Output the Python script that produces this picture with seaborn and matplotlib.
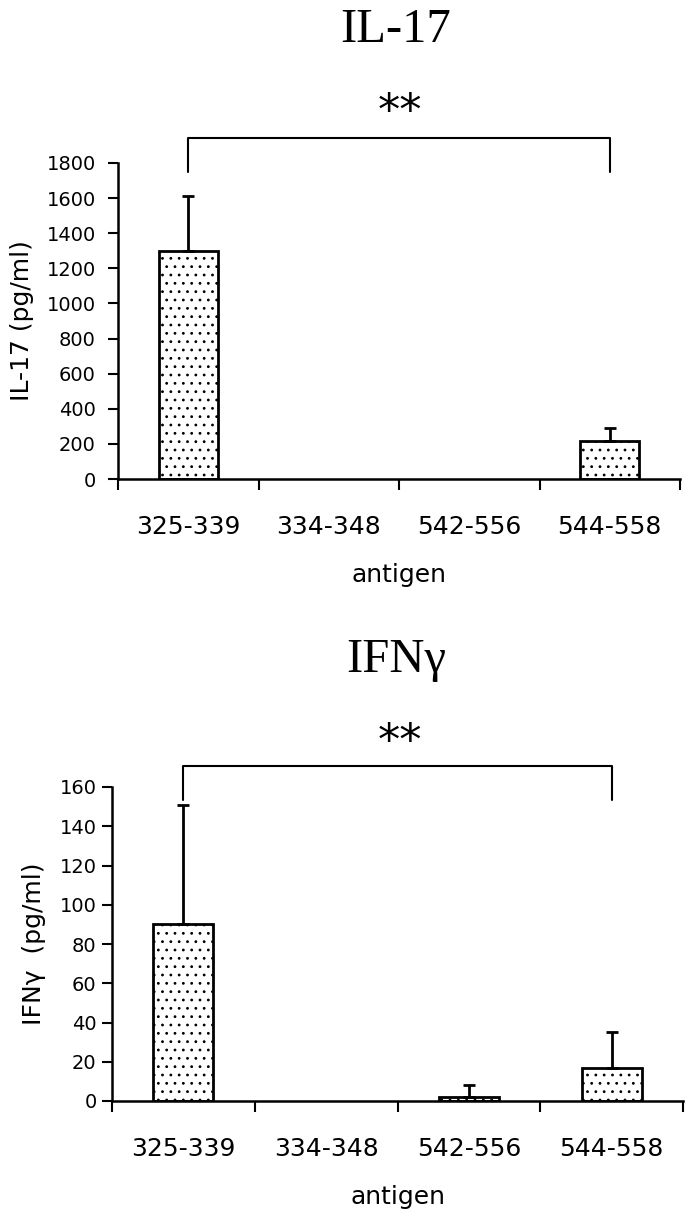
import matplotlib
matplotlib.use("Agg")
import matplotlib.pyplot as plt
import seaborn as sns
import pandas as pd
import numpy as np

# ---- data ----
antigens = ["325-339", "334-348", "542-556", "544-558"]
il17_mean = [1300, 0, 0, 215]
il17_err = [310, 0, 0, 75]
ifng_mean = [90, 0, 2, 17]
ifng_err = [61, 0, 6, 18]
il17_ticks = [0, 200, 400, 600, 800, 1000, 1200, 1400, 1600, 1800]
ifng_ticks = [0, 20, 40, 60, 80, 100, 120, 140, 160]

sns.set_style("white")
plt.rcParams['font.family'] = ['DejaVu Sans']
plt.rcParams['text.color'] = 'black'
plt.rcParams['axes.labelcolor'] = 'black'
plt.rcParams['xtick.color'] = 'black'
plt.rcParams['ytick.color'] = 'black'
plt.rcParams['hatch.linewidth'] = 0.8
plt.rcParams['hatch.color'] = 'black'

fig = plt.figure(figsize=(6.85, 12.26), dpi=100)
W, H = 685, 1226

def px_axes(x0, x1, ytop, ybot):
    return fig.add_axes([x0 / W, 1 - ybot / H, (x1 - x0) / W, (ybot - ytop) / H])

panels = [
    dict(box=(118, 680, 163, 479), mean=il17_mean, err=il17_err, ticks=il17_ticks,
         ymax=1800, ylabel="IL-17 (pg/ml)", title="IL-17", title_y=30, star_y=112,
         br_top=1942, br_left=1749, br_right=1749, ylab_x=22, ypad=9),
    dict(box=(112, 683, 787, 1101), mean=ifng_mean, err=ifng_err, ticks=ifng_ticks,
         ymax=160, ylabel="IFNγ  (pg/ml)", title="IFNγ", title_y=660, star_y=742,
         br_top=170.7, br_left=153.5, br_right=153.5, ylab_x=34, ypad=4),
]

for p in panels:
    x0, x1, yt, yb = p['box']
    ax = px_axes(x0, x1, yt, yb)
    df = pd.DataFrame({"antigen": antigens, "value": p['mean']})
    sns.barplot(data=df, x="antigen", y="value", ax=ax, color="white",
                edgecolor="black", linewidth=2, width=0.42, errorbar=None)
    for bar in ax.patches:
        bar.set_hatch('..')
        bar.set_facecolor('white')
        if bar.get_height() == 0:
            bar.set_visible(False)
    xs = np.arange(len(antigens))
    errs = np.array(p['err'], dtype=float)
    mask = errs > 0
    ax.errorbar(xs[mask], np.array(p['mean'])[mask],
                yerr=[np.zeros(mask.sum()), errs[mask]],
                fmt='none', ecolor='black', elinewidth=2, capsize=4, capthick=2)
    ax.set_xlim(-0.5, 3.5)
    ax.set_ylim(0, p['ymax'])
    ax.set_yticks(p['ticks'])
    ax.set_yticklabels([str(t) for t in p['ticks']], fontsize=14)
    ax.tick_params(axis='y', direction='out', length=7, width=1.5, pad=p['ypad'], left=True)
    ax.set_xticks([-0.5, 0.5, 1.5, 2.5, 3.5])
    ax.set_xticklabels([])
    ax.set_xticks(xs, minor=True)
    ax.set_xticklabels(antigens, minor=True, fontsize=18)
    ax.tick_params(axis='x', which='major', direction='out', length=8, width=1.5, bottom=True)
    ax.tick_params(axis='x', which='minor', length=0, pad=26)
    ax.set_xlabel("antigen", fontsize=18, labelpad=17)
    ax.set_ylabel(p['ylabel'], fontsize=18)
    ax.yaxis.label.set_va('center')
    ax.yaxis.set_label_coords((p['ylab_x'] - x0) / (x1 - x0), 0.5)
    for s in ['top', 'right']:
        ax.spines[s].set_visible(False)
    for s in ['left', 'bottom']:
        ax.spines[s].set_linewidth(1.8)
        ax.spines[s].set_color('black')
    # significance bracket
    ax.plot([0, 0, 3, 3], [p['br_left'], p['br_top'], p['br_top'], p['br_right']],
            color='black', lw=1.5, clip_on=False)
    fig.text(400 / W, 1 - p['star_y'] / H, "**", ha='center', va='center', fontsize=32)
    fig.text(396 / W, 1 - p['title_y'] / H, p['title'], ha='center', va='center', fontsize=35,
             family=['Liberation Serif', 'DejaVu Serif'])

fig.savefig("out.png", dpi=100)
